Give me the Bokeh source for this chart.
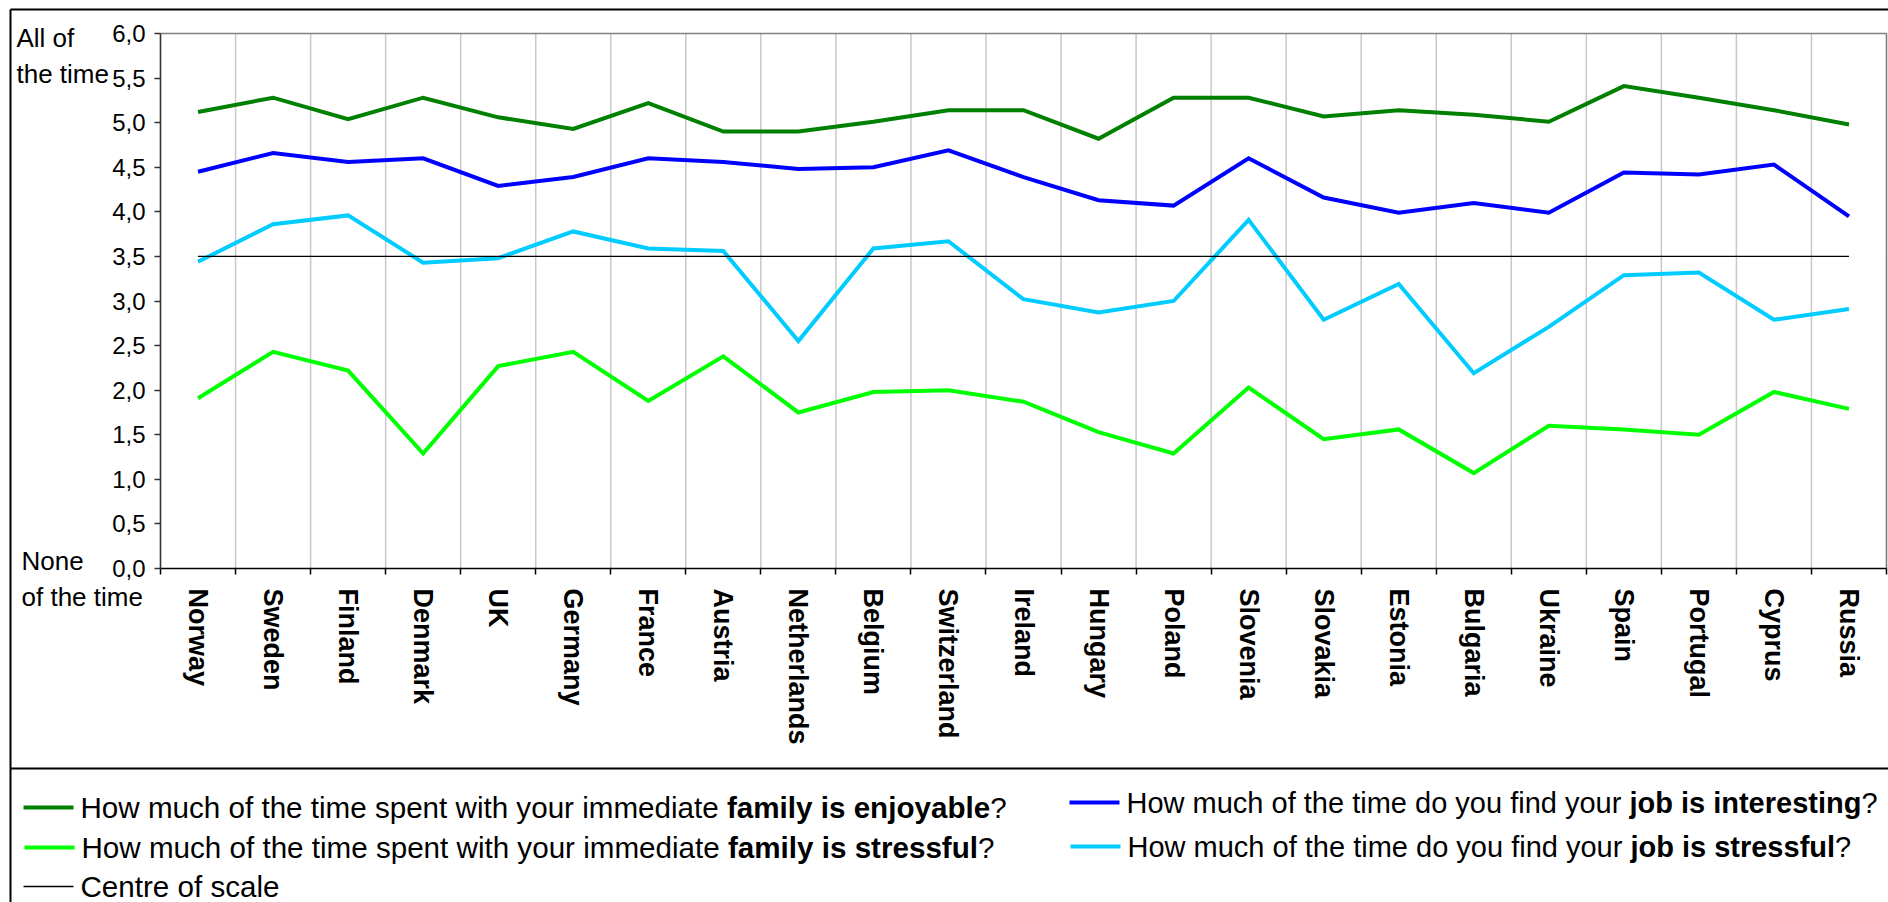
from bokeh.plotting import figure
from bokeh.models import Range1d, FixedTicker, CustomJSTickFormatter
from bokeh.core.properties import value
from bokeh.embed import file_html
from bokeh.resources import INLINE

# ---- data -------------------------------------------------------------
countries = ["Norway", "Sweden", "Finland", "Denmark", "UK", "Germany", "France", "Austria",
             "Netherlands", "Belgium", "Switzerland", "Ireland", "Hungary", "Poland", "Slovenia",
             "Slovakia", "Estonia", "Bulgaria", "Ukraine", "Spain", "Portugal", "Cyprus", "Russia"]

family_enjoyable = [5.12, 5.28, 5.04, 5.28, 5.06, 4.93, 5.22, 4.90, 4.90, 5.01, 5.14, 5.14,
                    4.82, 5.28, 5.28, 5.07, 5.14, 5.09, 5.01, 5.41, 5.28, 5.14, 4.98]
job_interesting = [4.45, 4.66, 4.56, 4.60, 4.29, 4.39, 4.60, 4.56, 4.48, 4.50, 4.69, 4.39,
                   4.13, 4.07, 4.60, 4.16, 3.99, 4.10, 3.99, 4.44, 4.42, 4.53, 3.95]
job_stressful = [3.44, 3.86, 3.96, 3.43, 3.48, 3.78, 3.59, 3.56, 2.55, 3.59, 3.67, 3.02,
                 2.87, 3.00, 3.91, 2.79, 3.19, 2.19, 2.71, 3.29, 3.32, 2.79, 2.91]
family_stressful = [1.91, 2.43, 2.22, 1.29, 2.27, 2.43, 1.88, 2.38, 1.75, 1.98, 2.00, 1.87,
                    1.53, 1.29, 2.03, 1.45, 1.56, 1.07, 1.60, 1.56, 1.50, 1.98, 1.79]
centre_value = 3.5
centre_of_scale = [centre_value] * len(countries)

y_ticks = [0.0, 0.5, 1.0, 1.5, 2.0, 2.5, 3.0, 3.5, 4.0, 4.5, 5.0, 5.5, 6.0]

FONT = "Liberation Sans"
C_FAM_ENJ = "#008000"
C_FAM_STR = "#00FF00"
C_JOB_INT = "#0000FF"
C_JOB_STR = "#00CCFF"

n = len(countries)
centers = [i + 0.5 for i in range(n)]
boundaries = list(range(n + 1))
y_lo, y_hi = y_ticks[0], y_ticks[-1]

# ---- page geometry (pixels) -------------------------------------------
W, H = 1888, 902
AREA_L, AREA_R, AREA_T, AREA_B = 160, 1886, 33, 568
x_scale = (AREA_R - AREA_L) / n
y_scale = (AREA_B - AREA_T) / (y_hi - y_lo)

# the frame fills the whole canvas; the value ranges are widened so that the
# plotting area lands on AREA_* and the axes are pinned to the data origin
p = figure(width=W, height=H,
           x_range=Range1d(0 - AREA_L / x_scale, n + (W - AREA_R) / x_scale),
           y_range=Range1d(y_lo - (H - AREA_B) / y_scale, y_hi + AREA_T / y_scale),
           title=None, toolbar_location=None, output_backend="svg",
           min_border=0, min_border_left=0, min_border_right=0,
           min_border_top=0, min_border_bottom=0)
p.background_fill_color = "white"
p.border_fill_color = "white"
p.outline_line_color = None
p.grid.visible = False

# pixel space for the surrounding frame, captions and legend
p.extra_x_ranges = {"px": Range1d(0, W)}
p.extra_y_ranges = {"px": Range1d(H, 0)}

xa = p.xaxis[0]
xa.fixed_location = y_lo
xa.bounds = (0, n)
xa.ticker = FixedTicker(ticks=centers, minor_ticks=boundaries)
xa.formatter = CustomJSTickFormatter(
    args=dict(names=countries),
    code="const i = Math.floor(tick); return (i >= 0 && i < names.length) ? names[i] : '';")
xa.major_label_orientation = "vertical"
xa.major_tick_line_color = None
xa.major_tick_out = 0
xa.major_tick_in = 0
xa.minor_tick_out = 6
xa.minor_tick_in = 0
xa.minor_tick_line_color = "black"
xa.minor_tick_line_width = 1.5
xa.major_label_standoff = 14
xa.major_label_text_font = FONT
xa.major_label_text_font_style = "bold"
xa.major_label_text_font_size = "27px"
xa.major_label_text_color = "black"
xa.axis_line_color = "black"
xa.axis_line_width = 1.5

ya = p.yaxis[0]
ya.fixed_location = 0
ya.bounds = (y_lo, y_hi)
ya.ticker = FixedTicker(ticks=y_ticks)
ya.formatter = CustomJSTickFormatter(code="return tick.toFixed(1).replace('.', ',');")
ya.major_tick_out = 6
ya.major_tick_in = 0
ya.major_tick_line_color = "#333333"
ya.major_tick_line_width = 1.5
ya.minor_tick_line_color = None
ya.major_label_standoff = 9
ya.major_label_text_font = FONT
ya.major_label_text_font_size = "24px"
ya.major_label_text_color = "black"
ya.axis_line_color = "#333333"
ya.axis_line_width = 1.5

# vertical separators between countries and the grey top/right edge of the area
p.segment(x0=boundaries, y0=[y_lo] * len(boundaries), x1=boundaries, y1=[y_hi] * len(boundaries),
          line_color="#c8c8c8", line_width=1.5)
p.line([0, n, n], [y_hi, y_hi, y_lo], line_color="#808080", line_width=1.5)

series = [
    (family_enjoyable, C_FAM_ENJ),
    (family_stressful, C_FAM_STR),
    (job_interesting, C_JOB_INT),
    (job_stressful, C_JOB_STR),
]
for vals, col in series:
    p.line(centers, vals, line_color=col, line_width=4, line_join="miter")
p.line(centers, centre_of_scale, line_color="black", line_width=1.3)

# ---- outer frame and captions (pixel space) ----------------------------
LEG_TOP = 768
p.segment(x0=[10, 10, 10], y0=[9, 9, LEG_TOP], x1=[W, 10, W], y1=[9, H, LEG_TOP],
          line_color="black", line_width=2, x_range_name="px", y_range_name="px")

def caption(text, x, y):
    p.text(x=[x], y=[y], text=[text], text_font=value(FONT), text_font_size="26px",
           text_color="black", text_baseline="alphabetic", text_align="left",
           x_range_name="px", y_range_name="px")

caption("All of", 16, 37)
caption("the time", 16, 73)
caption("None", 21, 560)
caption("of the time", 21, 596)

# ---- legend -----------------------------------------------------------
REG_W = {' ': 278, '?': 556, 'C': 722, 'H': 722, 'a': 556, 'b': 556, 'c': 500, 'd': 556,
         'e': 556, 'f': 278, 'g': 556, 'h': 556, 'i': 222, 'j': 222, 'l': 222, 'm': 833,
         'n': 556, 'o': 556, 'p': 556, 'r': 333, 's': 500, 't': 278, 'u': 556, 'w': 722,
         'y': 500}
BOLD_W = {' ': 278, '?': 611, 'a': 556, 'b': 611, 'c': 556, 'd': 611, 'e': 556, 'f': 333,
          'g': 611, 'h': 611, 'i': 278, 'j': 278, 'l': 278, 'm': 889, 'n': 611, 'o': 611,
          'p': 611, 'r': 389, 's': 556, 't': 333, 'u': 611, 'y': 556}

def text_width(s, bold, size):
    table = BOLD_W if bold else REG_W
    return sum(table.get(ch, 556) for ch in s) * size / 1000.0

def legend_entry(x_line, y, color, width, parts, size):
    p.line([x_line, x_line + 50], [y, y], line_color=color, line_width=width,
           x_range_name="px", y_range_name="px")
    x = x_line + 57
    for s, bold in parts:
        p.text(x=[x], y=[y], text=[s], text_font=value(FONT),
               text_font_style="bold" if bold else "normal",
               text_font_size=f"{size}px", text_color="black",
               text_baseline="middle", text_align="left",
               x_range_name="px", y_range_name="px")
        x += text_width(s, bold, size)

fam = "How much of the time spent with your immediate "
job = "How much of the time do you find your "
legend_entry(23, LEG_TOP + 39, C_FAM_ENJ, 4,
             [(fam, False), ("family is enjoyable", True), ("?", False)], 29.6)
legend_entry(24, LEG_TOP + 79, C_FAM_STR, 4,
             [(fam, False), ("family is stressful", True), ("?", False)], 29.6)
legend_entry(23, LEG_TOP + 118, "black", 1.3, [("Centre of scale", False)], 29.6)
legend_entry(1069, LEG_TOP + 34, C_JOB_INT, 4,
             [(job, False), ("job is interesting", True), ("?", False)], 29)
legend_entry(1070, LEG_TOP + 78, C_JOB_STR, 4,
             [(job, False), ("job is stressful", True), ("?", False)], 29)

open("out.html", "w").write(file_html(p, INLINE))
